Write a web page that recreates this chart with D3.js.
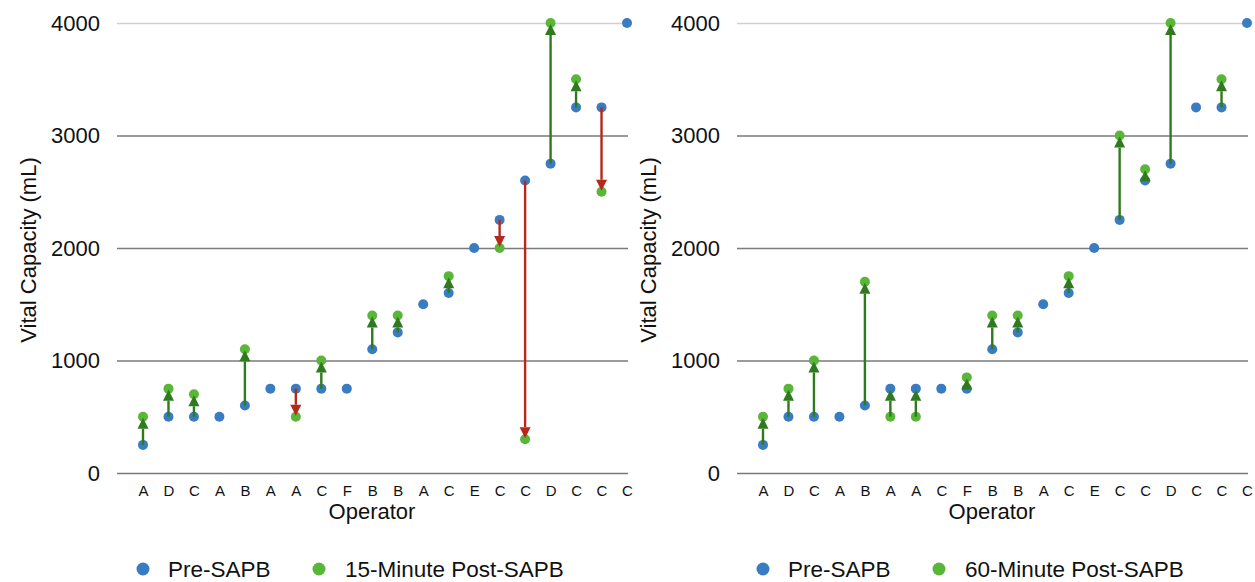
<!DOCTYPE html>
<html>
<head>
<meta charset="utf-8">
<script src="https://cdn.jsdelivr.net/npm/d3@7"></script>
<style>
  body { margin: 0; background: #fff; }
  svg { display: block; font-family: "Liberation Sans", Arial, sans-serif; }
</style>
</head>
<body>
<svg id="chart" width="1255" height="582"></svg>
<script>
// operators along the x axis (same order in both panels)
const operators = ["A","D","C","A","B","A","A","C","F","B","B","A","C","E","C","C","D","C","C","C"];
const yTicks = [0, 1000, 2000, 3000, 4000];

// 15-minute panel
const pre15  = [250, 500, 500, 500, 600, 750, 750, 750, 750, 1100, 1250, 1500, 1600, 2000, 2250, 2600, 2750, 3250, 3250, 4000];
const post15 = [500, 750, 700, null, 1100, null, 500, 1000, null, 1400, 1400, null, 1750, null, 2000, 300, 4000, 3500, 2500, null];
const arrowFrom15 = [250, 500, 500, null, 600, null, 750, 750, null, 1100, 1250, null, 1600, null, 2250, 2600, 2750, 3250, 3250, null];
const arrowTo15   = [500, 750, 700, null, 1100, null, 500, 1000, null, 1400, 1400, null, 1750, null, 2000, 300, 4000, 3500, 2500, null];

// 60-minute panel
const pre60  = [250, 500, 500, 500, 600, 750, 750, 750, 750, 1100, 1250, 1500, 1600, 2000, 2250, 2600, 2750, 3250, 3250, 4000];
const post60 = [500, 750, 1000, null, 1700, 500, 500, null, 850, 1400, 1400, null, 1750, null, 3000, 2700, 4000, null, 3500, null];
const arrowFrom60 = [250, 500, 500, null, 600, 500, 500, null, 750, 1100, 1250, null, 1600, null, 2250, 2600, 2750, null, 3250, null];
const arrowTo60   = [500, 750, 1000, null, 1700, 750, 750, null, 850, 1400, 1400, null, 1750, null, 3000, 2700, 4000, null, 3500, null];

const blue = "#3a7cc1", green = "#59b638", upColor = "#2f7a1f", downColor = "#b5281b";
const svg = d3.select("#chart");

function drawPanel(offsetX, pre, post, arrowFrom, arrowTo, legendText) {
    const g = svg.append("g").attr("transform", "translate(" + offsetX + ",0)");

    const x = d3.scalePoint()
        .domain(d3.range(operators.length))
        .range([143, 627]);
    const y = d3.scaleLinear()
        .domain([0, 4000])
        .range([473, 23]);

    // y axis with gridlines
    const yAxis = g.append("g")
        .attr("transform", "translate(117,0)")
        .call(d3.axisLeft(y).tickValues(yTicks).tickSize(-511).tickPadding(17).tickFormat(d3.format("d")));
    yAxis.select(".domain").remove();
    yAxis.selectAll(".tick line")
        .attr("stroke", d => d === 4000 ? "#d0d0d0" : "#7a7a7a")
        .attr("stroke-width", 1.3);
    yAxis.selectAll(".tick text")
        .attr("font-size", 22)
        .attr("fill", "#111")
        .attr("font-family", "Liberation Sans, Arial, sans-serif");

    // x axis labels
    const xAxis = g.append("g")
        .attr("transform", "translate(0,473)")
        .call(d3.axisBottom(x).tickSize(0).tickPadding(12).tickFormat(i => operators[i]));
    xAxis.select(".domain").remove();
    xAxis.selectAll(".tick text")
        .attr("font-size", 15)
        .attr("fill", "#111")
        .attr("font-family", "Liberation Sans, Arial, sans-serif");

    // axis titles
    g.append("text")
        .attr("transform", "translate(36,250) rotate(-90)")
        .attr("text-anchor", "middle")
        .attr("font-size", 22)
        .attr("fill", "#111")
        .text("Vital Capacity (mL)");
    g.append("text")
        .attr("x", 372)
        .attr("y", 519)
        .attr("text-anchor", "middle")
        .attr("font-size", 22)
        .attr("fill", "#111")
        .text("Operator");

    // dots
    g.selectAll(".pre").data(pre).enter().append("circle")
        .attr("cx", (d, i) => x(i))
        .attr("cy", d => y(d))
        .attr("r", 5)
        .attr("fill", blue);
    g.selectAll(".post").data(post.map((v, i) => ({i: i, v: v})).filter(d => d.v !== null)).enter().append("circle")
        .attr("cx", d => x(d.i))
        .attr("cy", d => y(d.v))
        .attr("r", 5)
        .attr("fill", green);

    // arrows on top of the dots
    const arrows = arrowFrom.map((f, i) => ({i: i, from: f, to: arrowTo[i]})).filter(d => d.from !== null);
    const head = 11, halfW = 5.5;
    arrows.forEach(d => {
        const cx = x(d.i), y0 = y(d.from), y1 = y(d.to) + (y(d.to) < y(d.from) ? 1 : -1);
        const dir = y1 < y0 ? -1 : 1;
        const col = d.to > d.from ? upColor : downColor;
        g.append("line")
            .attr("x1", cx).attr("x2", cx)
            .attr("y1", y0).attr("y2", y1 - dir * head)
            .attr("stroke", col)
            .attr("stroke-width", 2.4);
        g.append("path")
            .attr("d", "M" + cx + "," + y1 + "L" + (cx - halfW) + "," + (y1 - dir * head) + "L" + (cx + halfW) + "," + (y1 - dir * head) + "Z")
            .attr("fill", col);
    });

    // legend
    const leg = g.append("g").attr("font-size", 22.5).attr("fill", "#111");
    leg.append("circle").attr("cx", 143).attr("cy", 569).attr("r", 6.5).attr("fill", blue);
    leg.append("text").attr("x", 168).attr("y", 577).text("Pre-SAPB");
    leg.append("circle").attr("cx", 319).attr("cy", 569).attr("r", 6.5).attr("fill", green);
    leg.append("text").attr("x", 345).attr("y", 577).text(legendText);
}

drawPanel(0, pre15, post15, arrowFrom15, arrowTo15, "15-Minute Post-SAPB");
drawPanel(620, pre60, post60, arrowFrom60, arrowTo60, "60-Minute Post-SAPB");
</script>
</body>
</html>
